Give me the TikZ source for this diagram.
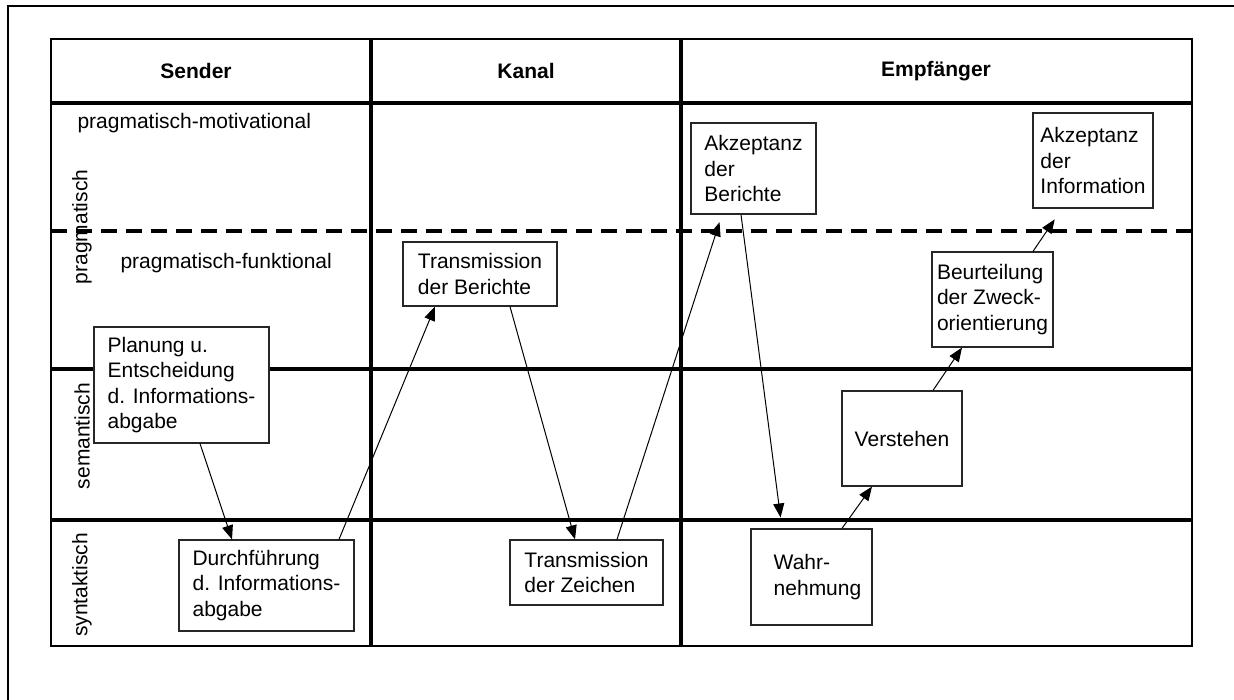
\documentclass[tikz,border=0pt]{standalone}
\usepackage{fontspec}
\setmainfont{Liberation Sans}
\usetikzlibrary{arrows.meta}
\tikzset{
  tablerule/.style={line width=3.2pt},
  stepbox/.style={draw=black!85, line width=1.2pt, fill=white, align=left, inner sep=0pt,
    font=\fontsize{21}{25.5}\selectfont},
  lanelabel/.style={rotate=90, font=\fontsize{21}{25}\selectfont},
  headlabel/.style={font=\fontsize{21}{25}\selectfont\bfseries},
  flow/.style={line width=1pt, -{Triangle[length=14pt,width=11pt]}},
}

\begin{document}
\begin{tikzpicture}[x=1pt,y=-1pt]
	%%%%% START %%%%%
	\useasboundingbox (0,0) rectangle (1234,700);
	
	\draw[line width=2.6pt] (8,700) -- (8,6) -- (1234,6);
	
	% table
	\draw[line width=2.8pt] (51,39) rectangle (1192,646);
	\draw[tablerule] (51,103) -- (1192,103);
	\draw[tablerule, dash pattern=on 16pt off 9pt] (51,231) -- (1192,231);
	\draw[tablerule] (51,369) -- (1192,369);
	\draw[tablerule] (51,520) -- (1192,520);
	\draw[tablerule] (371,39) -- (371,646);
	\draw[tablerule] (681,39) -- (681,646);
	
	\node[headlabel] (sender) at (196,71) {Sender};
	\node[headlabel] (kanal) at (526,71) {Kanal};
	\node[headlabel] (empf) at (936,71) {Empfänger};
	
	\node[lanelabel] (prag) at (82,227) {pragmatisch};
	\node[lanelabel] (sem) at (82,436) {semantisch};
	\node[lanelabel] (syn) at (82,585) {syntaktisch};
	
	\node[anchor=west, font=\fontsize{21}{25}\selectfont] (motiv) at (74,123) {pragmatisch-motivational};
	\node[anchor=west, font=\fontsize{21}{25}\selectfont] (funkt) at (117,263) {pragmatisch-funktional};
	
	% boxes
	\node[stepbox, minimum width=175, minimum height=116] (plan) at (181.5,385) {Planung u.\\Entscheidung\\d. Informations-\\abgabe};
	\node[stepbox, minimum width=175, minimum height=91] (durch) at (266.5,585.5) {Durchführung\\d. Informations-\\abgabe};
	\node[stepbox, minimum width=154, minimum height=64] (transber) at (480,274) {Transmission\\der Berichte};
	\node[stepbox, minimum width=153, minimum height=65] (transzei) at (586.5,572.5) {Transmission\\der Zeichen};
	\node[stepbox, minimum width=125, minimum height=91] (akzber) at (753.5,168.5) {Akzeptanz\\der\\Berichte};
	\node[stepbox, minimum width=120, minimum height=95] (akzinf) at (1093,160.5) {Akzeptanz\\der\\Information};
	\node[stepbox, minimum width=121, minimum height=95] (beurt) at (992.5,299.5) {Beurteilung\\der Zweck-\\orientierung};
	\node[stepbox, minimum width=120, minimum height=95] (verst) at (902,438.5) {Verstehen};
	\node[stepbox, minimum width=121, minimum height=96] (wahr) at (811.5,577) {\hspace*{12pt}Wahr-\\\hspace*{12pt}nehmung};
	
	% arrows
	\draw[flow] ([xshift=18.5]plan.south) -- ([xshift=-34.5]durch.north);
	\draw[flow] ([xshift=72.5]durch.north) -- ([xshift=-45]transber.south);
	\draw[flow] ([xshift=30]transber.south) -- ([xshift=-11.5]transzei.north);
	\draw[flow, shorten >=8pt] ([xshift=30.5]transzei.north) -- ([xshift=-31.5]akzber.south);
	\draw[flow, shorten >=11pt] ([xshift=-12.5]akzber.south) -- ([xshift=-29.5]wahr.north);
	\draw[flow] ([xshift=30.5]wahr.north) -- ([xshift=-30]verst.south);
	\draw[flow] ([xshift=31]verst.north) -- ([xshift=-30.5]beurt.south);
	\draw[flow, shorten >=13pt] ([xshift=40.5]beurt.north) -- ([xshift=-31]akzinf.south);
	
	%%%%% END %%%%%
\end{tikzpicture}
\end{document}
